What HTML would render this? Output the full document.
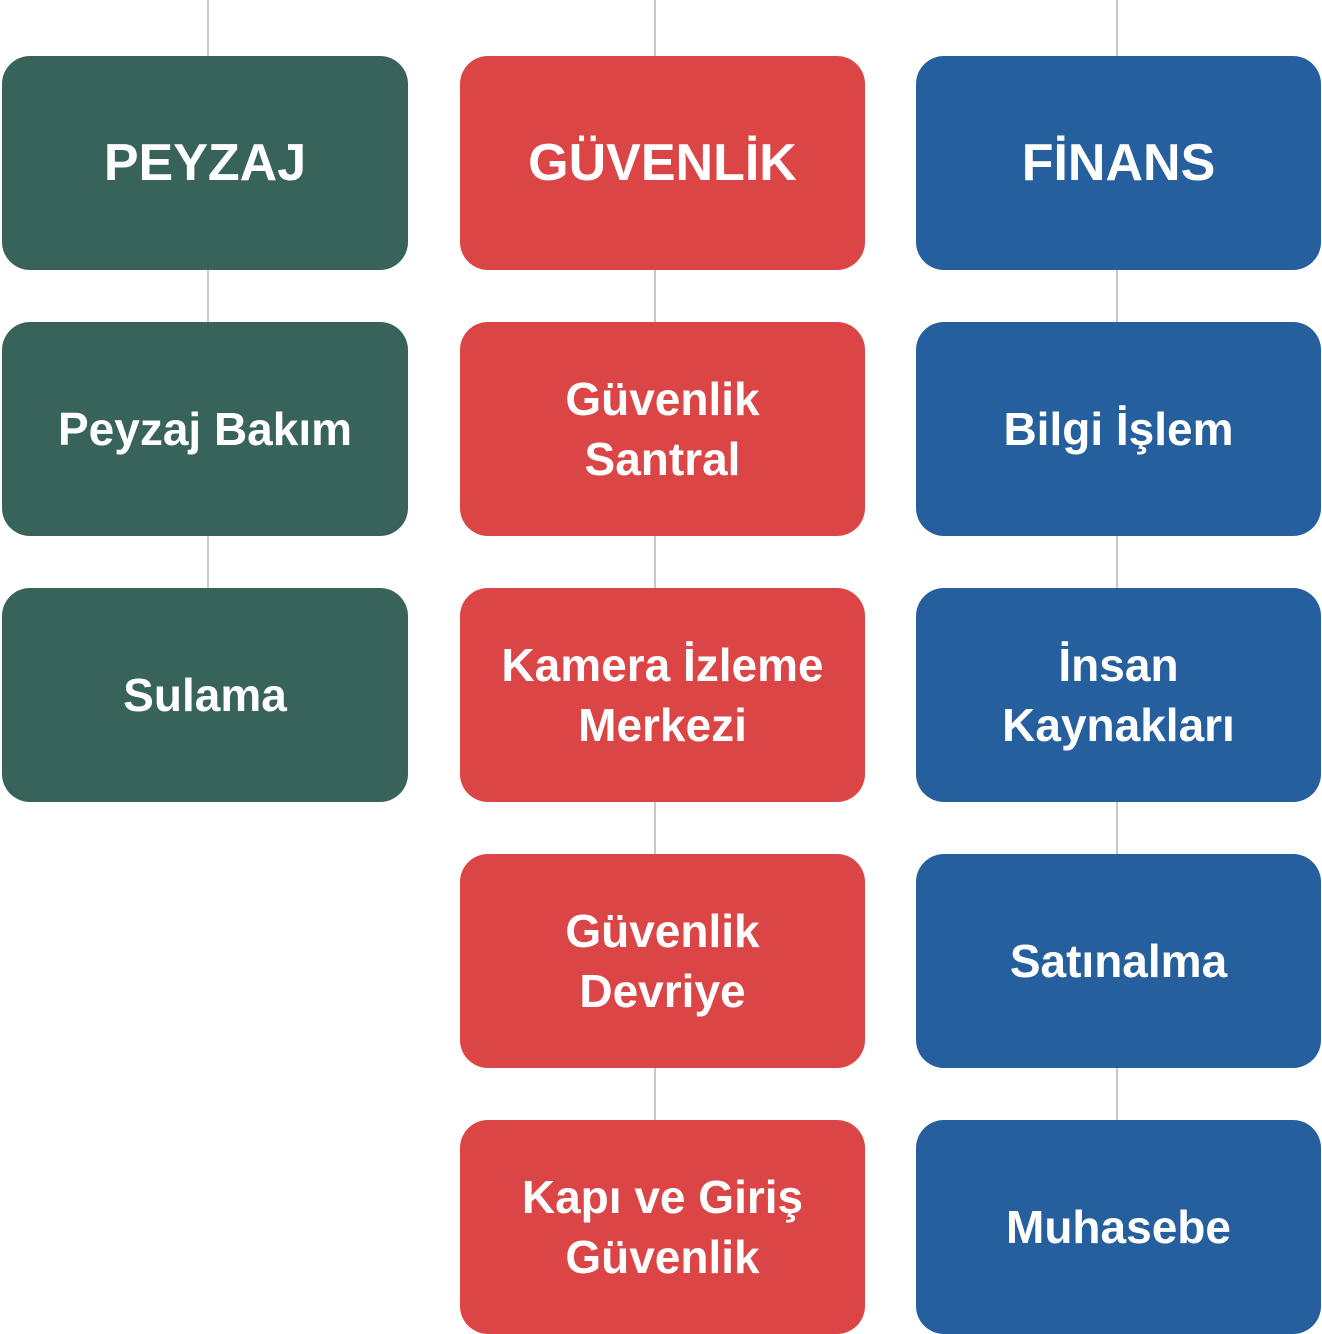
<!DOCTYPE html>
<html><head><meta charset="utf-8"><style>
body{margin:0;width:1322px;height:1334px;background:#fff;position:relative;overflow:hidden;font-family:"Liberation Sans",sans-serif}
.l{position:absolute;width:2px;background:#c8c8c8}
.b{position:absolute;height:214px;border-radius:28px;color:#fff;display:flex;align-items:center;justify-content:center;text-align:center;font-weight:bold;font-size:46px;line-height:60px}
.g{background:#37635a;left:2px;width:406px}
.r{background:#db4546;left:460px;width:405px}
.u{background:#265f9d;left:916px;width:405px}
.h{font-size:52px}
</style></head><body>
<div class="l" style="left:207px;top:0;height:590px"></div>
<div class="l" style="left:654px;top:0;height:1130px"></div>
<div class="l" style="left:1116px;top:0;height:1130px"></div>
<div class="b g h" style="top:56px">PEYZAJ</div>
<div class="b g" style="top:322px">Peyzaj Bakım</div>
<div class="b g" style="top:588px">Sulama</div>
<div class="b r h" style="top:56px">GÜVENLİK</div>
<div class="b r" style="top:322px">Güvenlik<br>Santral</div>
<div class="b r" style="top:588px">Kamera İzleme<br>Merkezi</div>
<div class="b r" style="top:854px">Güvenlik<br>Devriye</div>
<div class="b r" style="top:1120px">Kapı ve Giriş<br>Güvenlik</div>
<div class="b u h" style="top:56px">FİNANS</div>
<div class="b u" style="top:322px">Bilgi İşlem</div>
<div class="b u" style="top:588px">İnsan<br>Kaynakları</div>
<div class="b u" style="top:854px">Satınalma</div>
<div class="b u" style="top:1120px">Muhasebe</div>
</body></html>
